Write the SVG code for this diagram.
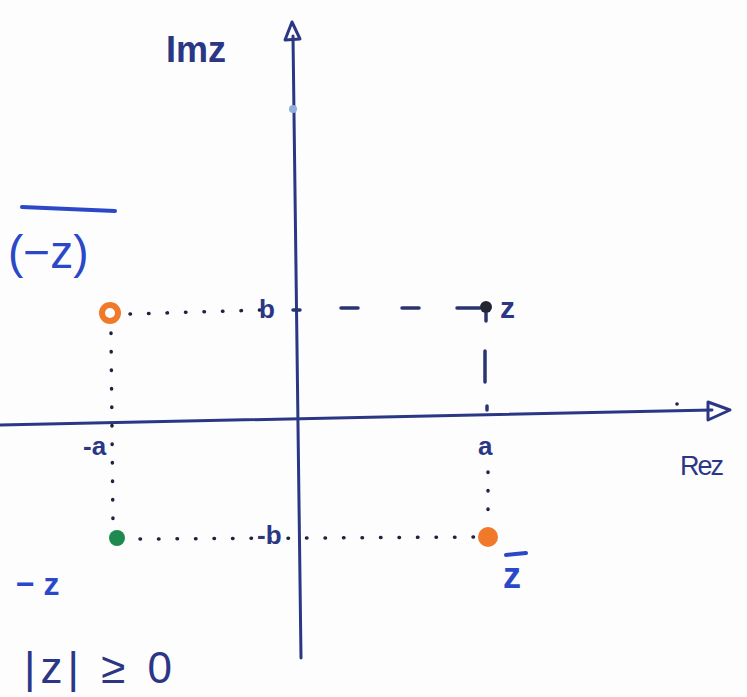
<svg xmlns="http://www.w3.org/2000/svg" width="747" height="697" viewBox="0 0 747 697">
<defs>
<style>
.axis{stroke:#2b3785;stroke-width:3;fill:none;stroke-linecap:round}
.dot{stroke:#1e2440;stroke-width:3.5;stroke-linecap:round;stroke-dasharray:0.5 18;fill:none}
.dash{stroke:#2a3570;stroke-width:3.5;stroke-linecap:round;fill:none}
.lbl{font-family:"Liberation Sans","DejaVu Sans",sans-serif;fill:#2b3785}
.blu{font-family:"Liberation Sans","DejaVu Sans",sans-serif;fill:#2a48c8}
</style>
</defs>
<rect width="747" height="697" fill="#fdfdfe"/>
<g id="connectors">
<line class="axis" x1="293" y1="36" x2="301" y2="658"/>
<polygon points="285,40 292,22 300,39" fill="none" stroke="#2b3785" stroke-width="3" stroke-linejoin="round"/>
<line class="axis" x1="0" y1="425" x2="712" y2="410"/>
<polygon points="708,402 730,410 708,420" fill="none" stroke="#2b3785" stroke-width="3" stroke-linejoin="round"/>
<line class="dot" x1="130" y1="314" x2="262" y2="310"/>
<line class="dot" x1="111" y1="333" x2="113" y2="525"/>
<line class="dot" x1="140" y1="539" x2="480" y2="537"/>
<line class="dot" x1="488" y1="472" x2="488" y2="520"/>
<line class="dash" x1="341" y1="308" x2="358" y2="308"/>
<line class="dash" x1="402" y1="308" x2="419" y2="308"/>
<line class="dash" x1="457" y1="308" x2="480" y2="308"/>
<line class="dash" x1="485" y1="351" x2="485" y2="382"/>
<line class="dash" x1="487" y1="406" x2="487" y2="410"/>
<line class="dash" x1="293" y1="310" x2="300" y2="310"/>
<line class="dash" x1="486" y1="313" x2="486" y2="321"/>
<circle cx="677" cy="404" r="1.8" fill="#1e2440"/>
</g>
<g id="node-z">
<circle cx="486" cy="307" r="6" fill="#222633"/>
<text class="lbl" x="500" y="318" font-size="30" font-weight="bold">z</text>
</g>
<g id="node-conj-neg-z">
<circle cx="110" cy="313" r="8" fill="none" stroke="#f07a2a" stroke-width="6"/>
<text class="blu" x="8" y="268" font-size="46">(−z)</text>
<line x1="22" y1="207" x2="115" y2="211" stroke="#2a48c8" stroke-width="4" stroke-linecap="round"/>
</g>
<g id="node-neg-z">
<circle cx="117" cy="538" r="8" fill="#1f8a50"/>
<text class="blu" x="16" y="595" font-size="32" font-weight="bold">− z</text>
</g>
<g id="node-conj-z">
<circle cx="488" cy="537" r="10" fill="#f07a2a"/>
<text class="blu" x="503" y="588" font-size="36" font-weight="bold">z</text>
<line x1="506" y1="555" x2="526" y2="553" stroke="#2a48c8" stroke-width="4" stroke-linecap="round"/>
</g>
<g id="labels">
<text class="lbl" x="166" y="62" font-size="36" font-weight="bold">Imz</text>
<circle cx="293" cy="109" r="4" fill="#8fb0d8"/>
<text class="lbl" x="259" y="318" font-size="26" font-weight="bold">b</text>
<text class="lbl" x="257" y="544" font-size="26" font-weight="bold">-b</text>
<text class="lbl" x="83" y="455" font-size="26" font-weight="bold">-a</text>
<text class="lbl" x="478" y="455" font-size="26" font-weight="bold">a</text>
<text class="lbl" x="680" y="475" font-size="27" letter-spacing="-2">Rez</text>
<text class="lbl" x="24" y="683" font-size="44" letter-spacing="5">|z| ≥ 0</text>
</g>
</svg>
